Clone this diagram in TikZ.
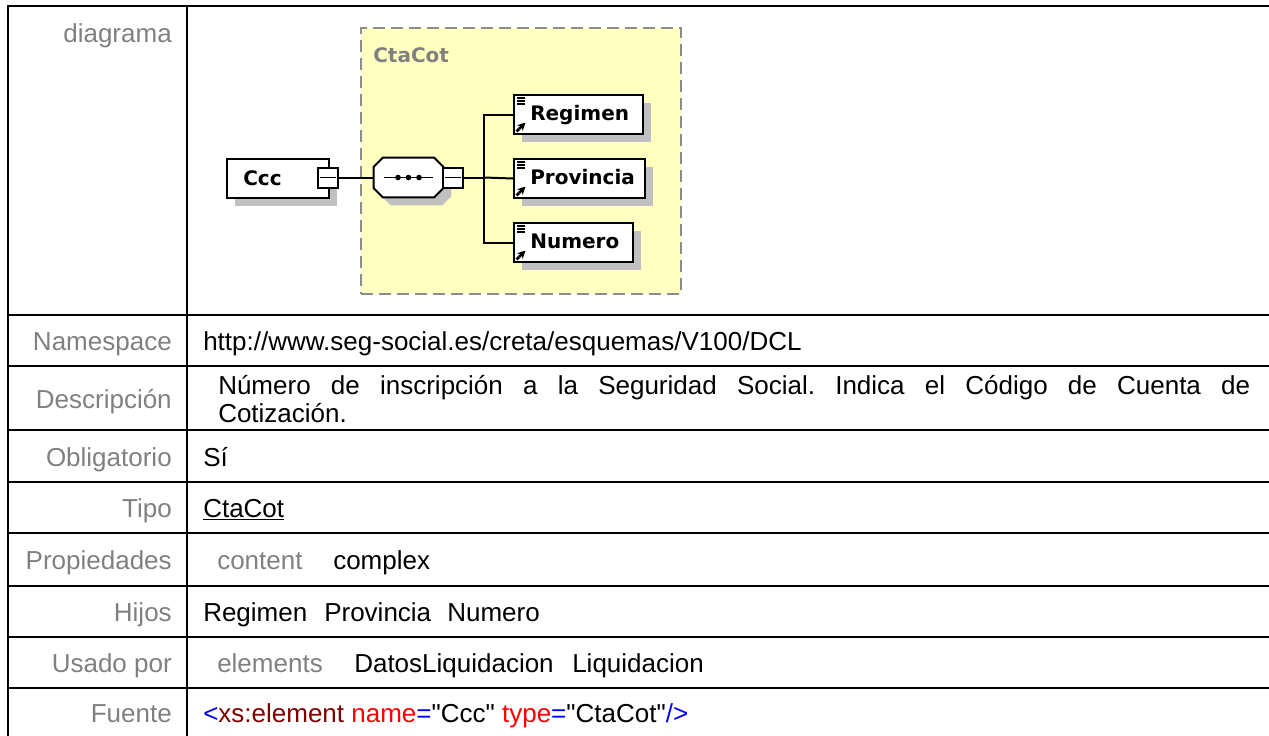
\documentclass[tikz,border=0pt]{standalone}
\usepackage{fontspec}
\setmainfont{Liberation Sans}
\newfontfamily\xsdfont{DejaVu Sans}
\usetikzlibrary{shadows,arrows.meta,positioning}

\definecolor{lblgray}{RGB}{128,128,128}
\definecolor{ctyellow}{RGB}{255,255,192}
\definecolor{shadowgray}{RGB}{192,192,192}
\definecolor{dashgray}{RGB}{140,140,140}
\definecolor{xsblue}{RGB}{0,0,255}
\definecolor{xsmaroon}{RGB}{128,0,0}
\definecolor{xsred}{RGB}{255,0,0}

\def\px{0.75pt}
\def\q{\textquotedbl}

\tikzset{
	gridline/.style={line width=1.5pt, line cap=rect},
	rowlabel/.style={anchor=base east, text=lblgray, inner sep=0pt, font=\fontsize{19.5}{23}\selectfont},
	rowvalue/.style={anchor=base west, inner sep=0pt, font=\fontsize{19.5}{23}\selectfont},
	boxshadow/.style={drop shadow={shadow xshift=6pt, shadow yshift=-6pt, fill=shadowgray, opacity=1}},
	elem/.style={draw, line width=1.5pt, fill=white, anchor=north west, inner sep=0pt, boxshadow},
	elemtext/.style={anchor=base west, inner sep=0pt, font=\xsdfont\bfseries\fontsize{15}{18}\selectfont},
	minusbox/.style={draw, line width=1.5pt, fill=white, minimum size=20*\px, inner sep=0pt},
	link/.style={line width=1.5pt},
}

\begin{document}
\frenchspacing
\begin{tikzpicture}[x=0.75pt, y=-0.75pt]
			\useasboundingbox (0,0) rectangle (1269,735);
			
			%Table grid
			\draw[gridline] (8,6) -- (1269,6);
			\draw[gridline] (8,6) -- (8,735);
			\draw[gridline] (186.5,6) -- (186.5,735);
			\foreach \y in {315,366,430,482,533,586,637,688}
				\draw[gridline] (8,\y) -- (1269,\y);
			
			%Row labels
			\node[rowlabel] (lbldiag) at (172,43) {diagrama};
			\foreach \n/\t/\y in {ns/Namespace/350.5, desc/Descripción/408, oblig/Obligatorio/466, tipo/Tipo/517.5, prop/Propiedades/569.5, hijos/Hijos/621.5, usado/Usado por/672.5, fuente/Fuente/722}
				\node[rowlabel] (lbl\n) at (172,\y) {\t};
			
			%Row values
			\node[rowvalue] (valns) at (203,350.5) {http://www.seg-social.es/creta/esquemas/V100/DCL};
			\node[rowvalue] (valdesc) at (218,394) {\makebox[774pt][s]{Número de inscripción a la Seguridad Social. Indica el Código de Cuenta de}};
			\node[rowvalue] (valdesctwo) at (218,422) {Cotización.};
			\node[rowvalue] (valoblig) at (203,466) {Sí};
			\node[rowvalue] (valtipo) at (203,517.5) {\underline{CtaCot}};
			\node[rowvalue, text=lblgray] (propkey) at (217,569.5) {content};
			\node[rowvalue] (propval) at (333,569.5) {complex};
			\node[rowvalue] (hijoa) at (203,621.5) {Regimen};
			\node[rowvalue] (hijob) at (324,621.5) {Provincia};
			\node[rowvalue] (hijoc) at (447,621.5) {Numero};
			\node[rowvalue, text=lblgray] (usadokey) at (217,672.5) {elements};
			\node[rowvalue] (usadoa) at (354,672.5) {DatosLiquidacion};
			\node[rowvalue] (usadob) at (572,672.5) {Liquidacion};
			\node[rowvalue] (valfuente) at (203,722) {\textcolor{xsblue}{<}\textcolor{xsmaroon}{xs:element} \textcolor{xsred}{name}\textcolor{xsblue}{=}\q Ccc\q{} \textcolor{xsred}{type}\textcolor{xsblue}{=}\q CtaCot\q\textcolor{xsblue}{/>}};
			
			%Type box
			\node[draw=dashgray, fill=ctyellow, dash pattern=on 9pt off 4.5pt, line width=1.5pt, anchor=north west, minimum width=320*\px, minimum height=266*\px, inner sep=0pt] (ctacot) at (360,27) {};
			\node[elemtext, text=lblgray] (ctacotlbl) at (373,63) {CtaCot};
			
			%Element Ccc
			\node[elem, minimum width=102*\px, minimum height=39*\px] (ccc) at (226,158) {};
			\node[elemtext] (ccctxt) at (243,185) {Ccc};
			\node[minusbox] (cccminus) at (328,177.5) {};
			\draw[line width=1.2pt] ([xshift=3*\px]cccminus.west) -- ([xshift=-3*\px]cccminus.east);
			
			%Sequence
			\node[minimum width=69*\px, minimum height=39*\px, inner sep=0pt] (seq) at (408.5,177.5) {};
			\draw[line width=1.5pt, fill=white, boxshadow]
				([xshift=9*\px]seq.north west) -- ([xshift=-9*\px]seq.north east)
				-- ([yshift=-9*\px]seq.north east) -- ([yshift=9*\px]seq.south east)
				-- ([xshift=-9*\px]seq.south east) -- ([xshift=9*\px]seq.south west)
				-- ([yshift=9*\px]seq.south west) -- ([yshift=-9*\px]seq.north west) -- cycle;
			\draw[line width=1.2pt] ([xshift=-24.5*\px]seq.center) -- ([xshift=24.5*\px]seq.center);
			\foreach \dx in {-10.5,0,10.5}
				\fill ([xshift=\dx*\px]seq.center) circle (2.8*\px);
			\node[minusbox] (seqminus) at (453,177.5) {};
			\draw[line width=1.2pt] ([xshift=3*\px]seqminus.west) -- ([xshift=-3*\px]seqminus.east);
			
			%Children
			\foreach \n/\w/\y/\t in {regimen/129/94/Regimen, provincia/131/158/Provincia, numero/119/222/Numero}{
				\node[elem, minimum width=\w*\px, minimum height=39*\px] (\n) at (513,\y) {};
				\node[elemtext] (txt\n) at ([shift={(17,26)}]\n.north west) {\t};
				\foreach \k in {0,1,2}
					\draw[line width=1.5pt] ([shift={(4,4+3*\k)}]\n.north west) -- ++(8,0);
				\draw[line width=2pt, -{Stealth[length=6pt,width=6pt]}] ([shift={(3.5,-3.5)}]\n.south west) -- ++(9,-9);
			}
			
			%Connectors
			\draw[link] (cccminus.east) -- (seq.west);
			\path (seqminus.east) ++(20,0) coordinate (fork);
			\draw[link] (seqminus.east) -- (fork);
			\draw[link] (fork) -- (provincia.west);
			\draw[link] (fork) |- (regimen.west);
			\draw[link] (fork) |- (numero.west);
\end{tikzpicture}
\end{document}
